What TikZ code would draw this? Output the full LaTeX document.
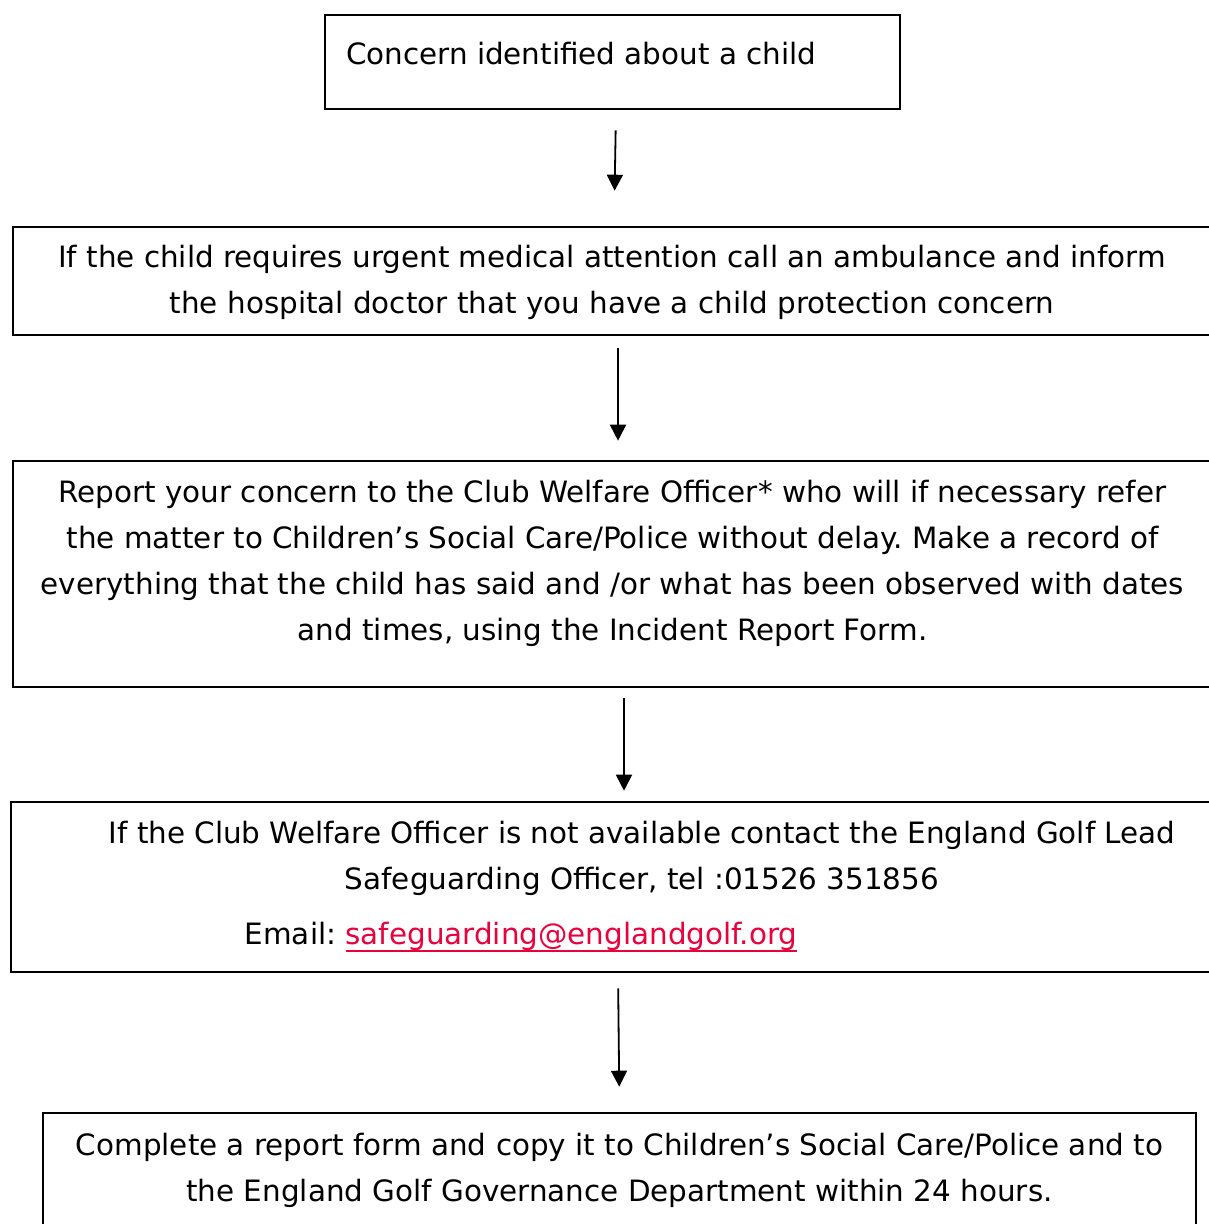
\documentclass[tikz,border=0pt]{standalone}
\usepackage{fontspec}
\setmainfont{DejaVu Sans}
\usepackage{tikz}
\usetikzlibrary{arrows.meta}
\definecolor{linkred}{RGB}{230,0,60}
\newcommand{\emailline}[1]{\setbox0\hbox{#1}\rlap{\rule[-4pt]{\wd0}{1pt}}\box0}
\frenchspacing

\begin{document}
\begin{tikzpicture}[
    x=0.5pt, y=-0.5pt,
    font=\fontsize{14.7pt}{23pt}\selectfont,
    stepbox/.style={draw, line width=1.3pt, inner sep=0pt},
    boxtext/.style={inner sep=0pt, align=center, anchor=north},
    flow/.style={-{Triangle[width=8pt, length=8pt]}, line width=0.9pt}
]
\useasboundingbox (0,0) rectangle (1208,1224);

% boxes
\node[stepbox, minimum width=287.5pt, minimum height=47pt] (concern) at (612.5,62) {};
\node[stepbox, minimum width=599pt, minimum height=54pt] (urgent) at (612,281) {};
\node[stepbox, minimum width=599.5pt, minimum height=113pt] (report) at (612.5,574) {};
\node[stepbox, minimum width=631pt, minimum height=85pt] (unavail) at (642,887) {};
\node[stepbox, minimum width=576.5pt, minimum height=80pt] (complete) at (619.5,1193) {};

% texts
\node[inner sep=0pt, anchor=north west, xshift=11pt, yshift=-14pt] (concerntxt) at (concern.north west)
    {Concern identified about a child};
\node[boxtext, yshift=-9.5pt] (urgenttxt) at (urgent.north)
    {If the child requires urgent medical attention call an ambulance and inform\\
     the hospital doctor that you have a child protection concern};
\node[boxtext, yshift=-10pt] (reporttxt) at (report.north)
    {Report your concern to the Club Welfare Officer* who will if necessary refer\\
     the matter to Children’s Social Care/Police without delay. Make a record of\\
     everything that the child has said and /or what has been observed with dates\\
     and times, using the Incident Report Form.};
\node[boxtext, yshift=-10pt] (unavailtxt) at (unavail.north)
    {If the Club Welfare Officer is not available contact the England Golf Lead\\
     Safeguarding Officer, tel :01526 351856\\[4.5pt]
     Email: {\color{linkred}\emailline{safeguarding@englandgolf.org}}\hspace*{121pt}};
\node[boxtext, yshift=-10.5pt] (completetxt) at (complete.north)
    {Complete a report form and copy it to Children’s Social Care/Police and to\\
     the England Golf Governance Department within 24 hours.};

% arrows
\draw[flow, shorten <=10pt, shorten >=17.5pt] ([xshift=1.75pt]concern.south) -- ([xshift=1pt]urgent.north);
\draw[flow, shorten <=6pt, shorten >=9.5pt] ([xshift=3pt]urgent.south) -- ([xshift=2.75pt]report.north);
\draw[flow, shorten <=5pt, shorten >=5pt] ([xshift=5.75pt]report.south) -- ([xshift=-9pt]unavail.north);
\draw[flow, shorten <=7.5pt, shorten >=12.5pt] ([xshift=-12pt]unavail.south) -- (complete.north);

\end{tikzpicture}
\end{document}
